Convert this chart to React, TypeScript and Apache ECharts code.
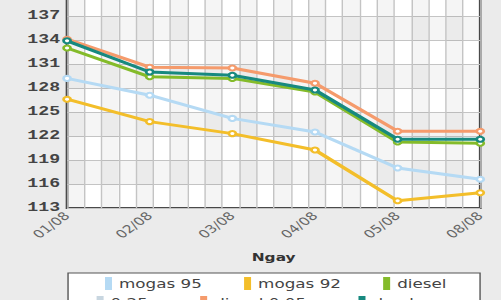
import React, { useEffect, useRef } from "react";
import * as echarts from "echarts";

const categories = ["01/08", "02/08", "03/08", "04/08", "05/08", "08/08"];
const seriesNames = ["mogas 95", "mogas 92", "diesel", "0.25s", "diesel 0.05s", "dau hoa"];
const seriesColors = ["#b5daf4", "#f3be2a", "#84bb2a", "#c8d6e0", "#f59b6c", "#17897f"];
const mogas95 = [129.2, 127.1, 124.2, 122.5, 118.0, 116.6];
const mogas92 = [126.6, 123.8, 122.3, 120.25, 113.9, 114.9];
const diesel = [133.0, 129.4, 129.2, 127.5, 121.25, 121.1];
const diesel025: number[] = [];
const diesel005 = [134.1, 130.6, 130.5, 128.6, 122.6, 122.6];
const dauHoa = [133.9, 130.0, 129.6, 127.75, 121.6, 121.6];
const yMin = 113;
const yMax = 140;
const yStep = 3;
const legendRow1 = ["mogas 95", "mogas 92", "diesel"];
const legendRow2 = ["0.25s", "diesel 0.05s", "dau hoa"];

const SX = 1.4;
const W = 501 / SX;
const OFF = 12;
const H = 300 + OFF;

export default function App() {
  const ref = useRef<HTMLDivElement>(null);
  useEffect(() => {
    if (!ref.current) return;
    const chart = echarts.init(ref.current, null, { renderer: "svg" });
    const allData = [mogas95, mogas92, diesel, diesel025, diesel005, dauHoa];
    const series = seriesNames.map((name, i) => ({
      name,
      type: "line",
      xAxisIndex: 0,
      yAxisIndex: 0,
      data: allData[i],
      symbol: "emptyCircle",
      symbolSize: 5,
      lineStyle: { color: seriesColors[i], width: 3 },
      itemStyle: { color: seriesColors[i], borderWidth: 1.5 },
      z: 3 + i,
    }));
    const legendCommon = {
      orient: "horizontal",
      padding: 0,
      itemWidth: 5,
      itemHeight: 13,
      icon: "rect",
      textStyle: { fontFamily: "DejaVu Sans", fontSize: 12, color: "#444" },
    };
    chart.setOption({
      animation: false,
      backgroundColor: "#ebebeb",
      color: seriesColors,
      grid: {
        left: 47.9,
        right: W - 342.9,
        top: OFF - 8,
        bottom: 92,
        show: true,
        backgroundColor: "#ffffff",
        borderColor: "#4a4a4a",
        borderWidth: 2,
        z: 0,
      },
      xAxis: [
        {
          type: "category",
          data: categories,
          boundaryGap: false,
          axisLine: { show: false },
          axisTick: { show: false },
          splitLine: { show: false },
          axisLabel: {
            rotate: 45,
            margin: 6,
            fontFamily: "DejaVu Sans",
            fontSize: 11,
            color: "#666",
          },
          name: "Ngay",
          nameLocation: "middle",
          nameGap: 44,
          nameTextStyle: {
            fontFamily: "DejaVu Sans",
            fontSize: 11,
            fontWeight: "bold",
            color: "#333",
          },
        },
        {
          type: "value",
          position: "bottom",
          min: 0,
          max: 24,
          interval: 1,
          axisLine: { show: false },
          axisTick: { show: false },
          axisLabel: { show: false },
          splitLine: { show: true, lineStyle: { color: "#c4c4c4", width: 1 } },
          splitArea: {
            show: true,
            areaStyle: { color: ["rgba(0,0,0,0.04)", "rgba(0,0,0,0)"] },
          },
        },
      ],
      yAxis: {
        type: "value",
        min: yMin,
        max: yMax,
        interval: yStep,
        axisLine: { show: false },
        axisTick: { show: false },
        splitLine: { show: true, lineStyle: { color: "#c4c4c4", width: 1 } },
        splitArea: {
          show: true,
          areaStyle: { color: ["rgba(0,0,0,0)", "rgba(0,0,0,0.04)"] },
        },
        axisLabel: {
          margin: 5,
          showMaxLabel: false,
          fontFamily: "Liberation Mono",
          fontSize: 13,
          fontWeight: "bold",
          color: "#444",
        },
      },
      legend: [
        { ...legendCommon, data: legendRow1, left: 75, top: 277 + OFF, itemGap: 30 },
        { ...legendCommon, data: legendRow2, left: 69, top: 296 + OFF, itemGap: 31 },
      ],
      graphic: [
        {
          type: "rect",
          shape: { x: 48.6, y: 273 + OFF, width: 294.3, height: 40 },
          style: { fill: "#ffffff", stroke: "#555", lineWidth: 1 },
          z: -1,
          silent: true,
        },
      ],
      series,
    });
    return () => chart.dispose();
  }, []);
  return (
    <div
      ref={ref}
      style={{
        position: "absolute",
        left: 0,
        top: -OFF,
        width: W,
        height: H,
        transform: `scaleX(${SX})`,
        transformOrigin: "0 0",
      }}
    />
  );
}
